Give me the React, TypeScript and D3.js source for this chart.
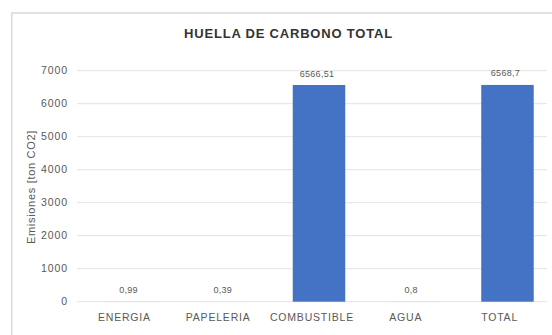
import React from "react";
import * as d3 from "d3";

const categories = ["ENERGIA", "PAPELERIA", "COMBUSTIBLE", "AGUA", "TOTAL"];
const values = [0.99, 0.39, 6566.51, 0.8, 6568.7];
const valueLabels = ["0,99", "0,39", "6566,51", "0,8", "6568,7"];
const yTicks = [0, 1000, 2000, 3000, 4000, 5000, 6000, 7000];
const title = "HUELLA DE CARBONO TOTAL";
const yTitle = "Emisiones [ton CO2]";

const W = 552;
const H = 335;
const font = "'Liberation Sans', Arial, sans-serif";

export default function App() {
  const y = d3.scaleLinear().domain([0, 7000]).range([301.7, 70.7]);
  const xLabel = d3.scaleBand().domain(categories).range([77.5, 546.5]);
  const xBar = d3
    .scaleBand()
    .domain(categories)
    .range([83.4, 554.6])
    .paddingInner(0.443)
    .paddingOuter(0.2215);
  const xBarCenter = (c: string) => (xBar(c) as number) + xBar.bandwidth() / 2;
  const xLabelCenter = (c: string) => (xLabel(c) as number) + xLabel.bandwidth() / 2;

  return (
    <svg
      width={W}
      height={H}
      style={{ position: "absolute", left: 0, top: 0, background: "#fff" }}
    >
      <rect x={11.7} y={13} width={W + 10} height={H + 10} fill="#fff" stroke="#d9d9d9" strokeWidth={1.5} />
      <text
        x={288.5}
        y={37.5}
        textAnchor="middle"
        fontFamily={font}
        fontWeight="bold"
        fontSize={13}
        letterSpacing={0.8}
        fill="#333333"
      >
        {title}
      </text>
      {yTicks.map((t) => (
        <g key={t}>
          <line x1={77} x2={547} y1={y(t)} y2={y(t)} stroke="#e3e3e3" strokeWidth={1} />
          <text
            x={68}
            y={y(t) + 3.7}
            textAnchor="end"
            fontFamily={font}
            fontSize={10.5}
            letterSpacing={0.9}
            fill="#595959"
          >
            {t}
          </text>
        </g>
      ))}
      {categories.map((c, i) => (
        <g key={c}>
          <rect
            x={xBar(c)}
            y={y(values[i])}
            width={xBar.bandwidth()}
            height={y(0) - y(values[i])}
            fill="#4472C4"
          />
          <text
            x={xBarCenter(c) - 2}
            y={y(values[i]) - 8.5}
            textAnchor="middle"
            fontFamily={font}
            fontSize={9}
            letterSpacing={0.3}
            fill="#595959"
          >
            {valueLabels[i]}
          </text>
          <text
            x={xLabelCenter(c)}
            y={320.5}
            textAnchor="middle"
            fontFamily={font}
            fontSize={10.5}
            letterSpacing={0.8}
            fill="#595959"
          >
            {c}
          </text>
        </g>
      ))}
      <text
        transform={`translate(34.5,187) rotate(-90)`}
        textAnchor="middle"
        fontFamily={font}
        fontSize={11}
        letterSpacing={0.7}
        fill="#595959"
      >
        {yTitle}
      </text>
    </svg>
  );
}
